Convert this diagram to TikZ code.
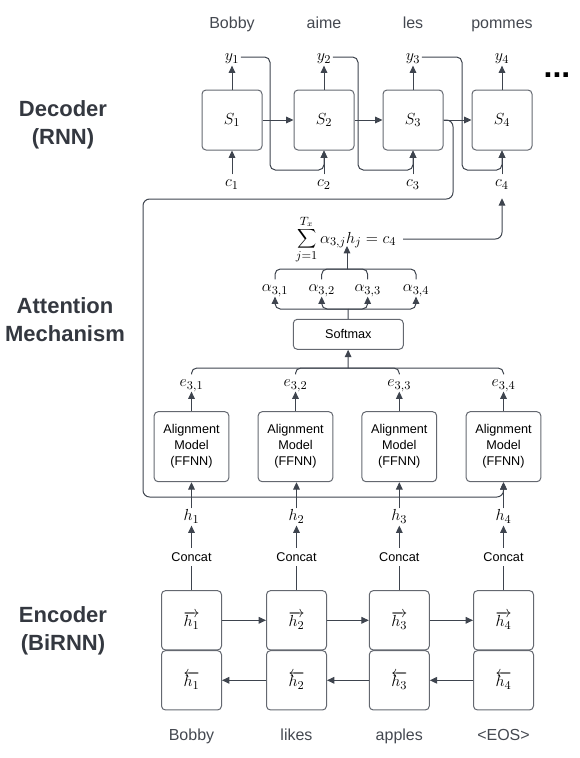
\documentclass[tikz,border=0pt]{standalone}
\usepackage{fontspec}
\setmainfont{Liberation Sans}
\usetikzlibrary{arrows.meta, positioning}
\definecolor{wirec}{RGB}{62,68,78}
\definecolor{boxc}{RGB}{100,104,112}
\definecolor{textc}{RGB}{68,72,80}
\definecolor{headc}{RGB}{52,56,64}

\tikzset{
  wire/.style={draw=wirec, line width=0.75pt},
  arr/.style={wire, -{Triangle[length=5.5pt,width=5pt]}},
  cell/.style={draw=boxc, rounded corners=3pt, line width=0.75pt,
    minimum width=45pt, minimum height=45pt, font=\fontsize{12.5}{14}\selectfont},
  enccell/.style={cell, minimum height=44.5pt},
  alignbox/.style={draw=boxc, rounded corners=3pt, line width=0.75pt,
    minimum width=56pt, minimum height=52.5pt, align=center,
    font=\fontsize{9.5}{12}\selectfont},
  lbl/.style={inner sep=1pt, text height=8pt, text depth=2.5pt,
    font=\fontsize{12.5}{14}\selectfont},
  word/.style={text=textc, text height=9pt, text depth=2.5pt,
    font=\fontsize{12}{14}\selectfont},
  small/.style={font=\fontsize{9.5}{12}\selectfont},
  heading/.style={text=headc, align=center, font=\fontsize{16.5}{21}\selectfont\bfseries},
}

\begin{document}
\begin{tikzpicture}[x=0.75pt, y=-0.75pt]
  \useasboundingbox (0,0) rectangle (580,758);

  % section headings
  \node[heading] (hdec) at (63,125) {Decoder\\(RNN)};
  \node[heading] (hatt) at (65,320) {Attention\\Mechanism};
  \node[heading] (henc) at (63,631) {Encoder\\(BiRNN)};

  % decoder
  \foreach \i/\x/\w in {1/232/Bobby, 2/324/aime, 3/413/les, 4/502/pommes} {
    \node[cell] (s\i) at (\x,120) {$S_\i$};
    \node[lbl] (y\i) at (\x,57) {$y_\i$};
    \node[word] (o\i) at (\x,24) {\w};
    \node[lbl] (c\i) at (\x,183) {$c_\i$};
    \draw[arr] (s\i) -- (y\i);
    \draw[arr] (c\i) -- (s\i);
  }
  \node[font=\fontsize{24}{28}\selectfont\bfseries] (dots) at (557,75) {...};

  \draw[arr] (s1) -- (s2);
  \draw[arr] (s2) -- (s3);
  \draw[arr] (s3) -- (s4);

  \coordinate (k1) at (270,170);
  \coordinate (k2) at (358,170);
  \coordinate (k3) at (462,170);
  \draw[arr, rounded corners=4pt] (y1.east) -| (k1) -| (s2.south);
  \draw[arr, rounded corners=4pt] (y2.east) -| (k2) -| (s3.south);
  \draw[arr, rounded corners=4pt] (y3.east) -| (k3) -| (s4.south);

  % attention
  \foreach \i/\x in {1/191.5, 2/295.5, 3/399.3, 4/503.5} {
    \node[alignbox] (al\i) at (\x,446.7) {Alignment\\Model\\(FFNN)};
    \node[lbl] (e\i) at (\x,383) {$e_{3,\i}$};
    \draw[arr] (al\i) -- (e\i);
  }
  \coordinate (ej) at (348,368);
  \foreach \i in {1,...,4}
    \draw[wire, rounded corners=4pt] (e\i.north) |- (ej);

  \node[draw=boxc, rounded corners=3pt, line width=0.75pt, minimum width=82.5pt,
    minimum height=22.5pt, small] (soft) at (348.3,334.3) {Softmax};
  \draw[arr] (ej) -- (soft);

  \coordinate (sj) at (348,309);
  \draw[wire] (soft) -- (sj);
  \foreach \i/\x in {1/275, 2/321.7, 3/367.7, 4/416} {
    \node[lbl] (a\i) at (\x,288) {$\alpha_{3,\i}$};
    \draw[arr, rounded corners=4pt] (sj) -| (a\i.south);
  }
  \coordinate (aj) at (347,269);
  \foreach \i in {1,...,4}
    \draw[wire, rounded corners=4pt] (a\i.north) |- (aj);

  \node[inner sep=1pt, font=\fontsize{12.5}{14}\selectfont, anchor=base] (sum) at (346,243)
    {$\displaystyle\sum_{j=1}^{T_x}\alpha_{3,j}h_j = c_4$};
  \coordinate (sumin) at (347,246);
  \coordinate (sumout) at (403,239);
  \draw[arr] (aj) -- (sumin);
  \draw[arr, rounded corners=5pt, shorten >=5pt] (sumout) -| (c4.south);

  % context line from S3 to the alignment models
  \coordinate (r1) at (453,199);
  \coordinate (r2) at (143,497);
  \draw[arr, rounded corners=5pt] (s3.east) -| (r1) -| (r2) -| (al4.south);

  % encoder
  \foreach \i/\x/\w in {1/191.5/Bobby, 2/296.5/likes, 3/399.3/apples, 4/503.5/<EOS>} {
    \node[enccell] (f\i) at (\x,620.3) {$\overrightarrow{h_\i}$};
    \node[enccell] (b\i) at (\x,680.3) {$\overleftarrow{h_\i}$};
    \node[small] (cc\i) at (\x,556.7) {Concat};
    \node[lbl] (h\i) at (\x,517) {$h_\i$};
    \node[word] (in\i) at (\x,736) {\w};
    \draw[wire] (f\i) -- (cc\i);
    \draw[arr] (cc\i) -- (h\i);
    \draw[arr] (h\i) -- (h\i |- al\i.south);
  }
  \draw[arr] (f1) -- (f2);
  \draw[arr] (f2) -- (f3);
  \draw[arr] (f3) -- (f4);
  \draw[arr] (b2) -- (b1);
  \draw[arr] (b3) -- (b2);
  \draw[arr] (b4) -- (b3);
\end{tikzpicture}
\end{document}
